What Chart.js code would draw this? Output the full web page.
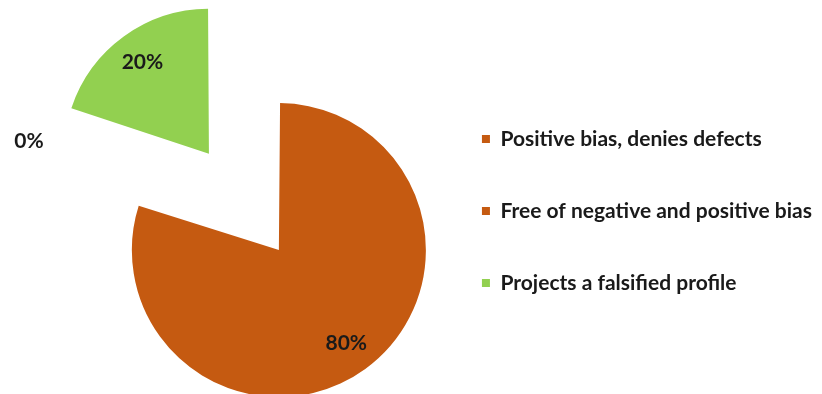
<!DOCTYPE html>
<html>
<head>
<meta charset="utf-8">
<script src="https://cdn.jsdelivr.net/npm/chart.js@4/dist/chart.umd.min.js"></script>
<style>
  body { margin: 0; background: #fff; }
  #wrap { width: 822px; height: 394px; }
</style>
</head>
<body>
<div id="wrap"><canvas id="myChart"></canvas></div>
<script>
const categories = ['Positive bias, denies defects', 'Free of negative and positive bias', 'Projects a falsified profile'];
const shares = [0, 80, 20];
const colours = ['#C55A11', '#C55A11', '#92D050'];
const explode = [0, 30, 446];

// percentage labels, placed like Excel does (inside each exploded slice)
const pctLabels = {
    id: 'pctLabels',
    afterDatasetsDraw(chart) {
        const ctx = chart.ctx;
        const meta = chart.getDatasetMeta(0);
        ctx.save();
        ctx.font = 'bold 21px Lato';
        ctx.fillStyle = '#1a1a1a';
        ctx.textAlign = 'center';
        ctx.textBaseline = 'middle';
        meta.data.forEach((arc, i) => {
            const p = arc.getProps(['x', 'y', 'startAngle', 'endAngle', 'outerRadius', 'circumference']);
            const text = shares[i] + '%';
            if (shares[i] === 0) {
                // zero slice has no area, Excel parks its label off to the left
                ctx.fillText(text, p.x - 1.76 * p.outerRadius, p.y - 0.74 * p.outerRadius);
                return;
            }
            // same shift + radius growth that ArcElement applies for `offset`
            const mid = (p.startAngle + p.endAngle) / 2;
            const t = explode[i] / 4;
            const fix = 1 - Math.sin(Math.min(Math.PI, p.circumference));
            const drawnR = p.outerRadius + t * fix;
            const r = t + 0.78 * drawnR;
            ctx.fillText(text, p.x + Math.cos(mid) * r, p.y + Math.sin(mid) * r);
        });
        ctx.restore();
    }
};

const ctx = document.getElementById('myChart').getContext('2d');
const myChart = new Chart(ctx, {
    type: 'pie',
    data: {
        labels: categories,
        datasets: [{
            data: shares,
            backgroundColor: colours,
            borderWidth: 0,
            offset: explode,
            hoverOffset: 0,
            radius: 139.5
        }]
    },
    options: {
        responsive: true,
        maintainAspectRatio: false,
        animation: false,
        events: [],
        cutout: '0%',
        layout: { padding: { left: 118, top: 28, right: 0, bottom: 0 } },
        plugins: {
            tooltip: { enabled: false },
            // empty title, only there to push the pie down without moving the legend
            title: {
                display: true,
                text: '',
                fullSize: false,
                font: { size: 10, lineHeight: 1 },
                padding: { top: 0, bottom: 56 }
            },
            legend: {
                position: 'right',
                align: 'center',
                maxWidth: 440,
                labels: {
                    boxWidth: 8,
                    boxHeight: 8,
                    padding: 51,
                    color: '#1a1a1a',
                    font: { family: 'Lato', size: 21, weight: 'bold' }
                }
            }
        }
    },
    plugins: [pctLabels]
});
</script>
</body>
</html>
